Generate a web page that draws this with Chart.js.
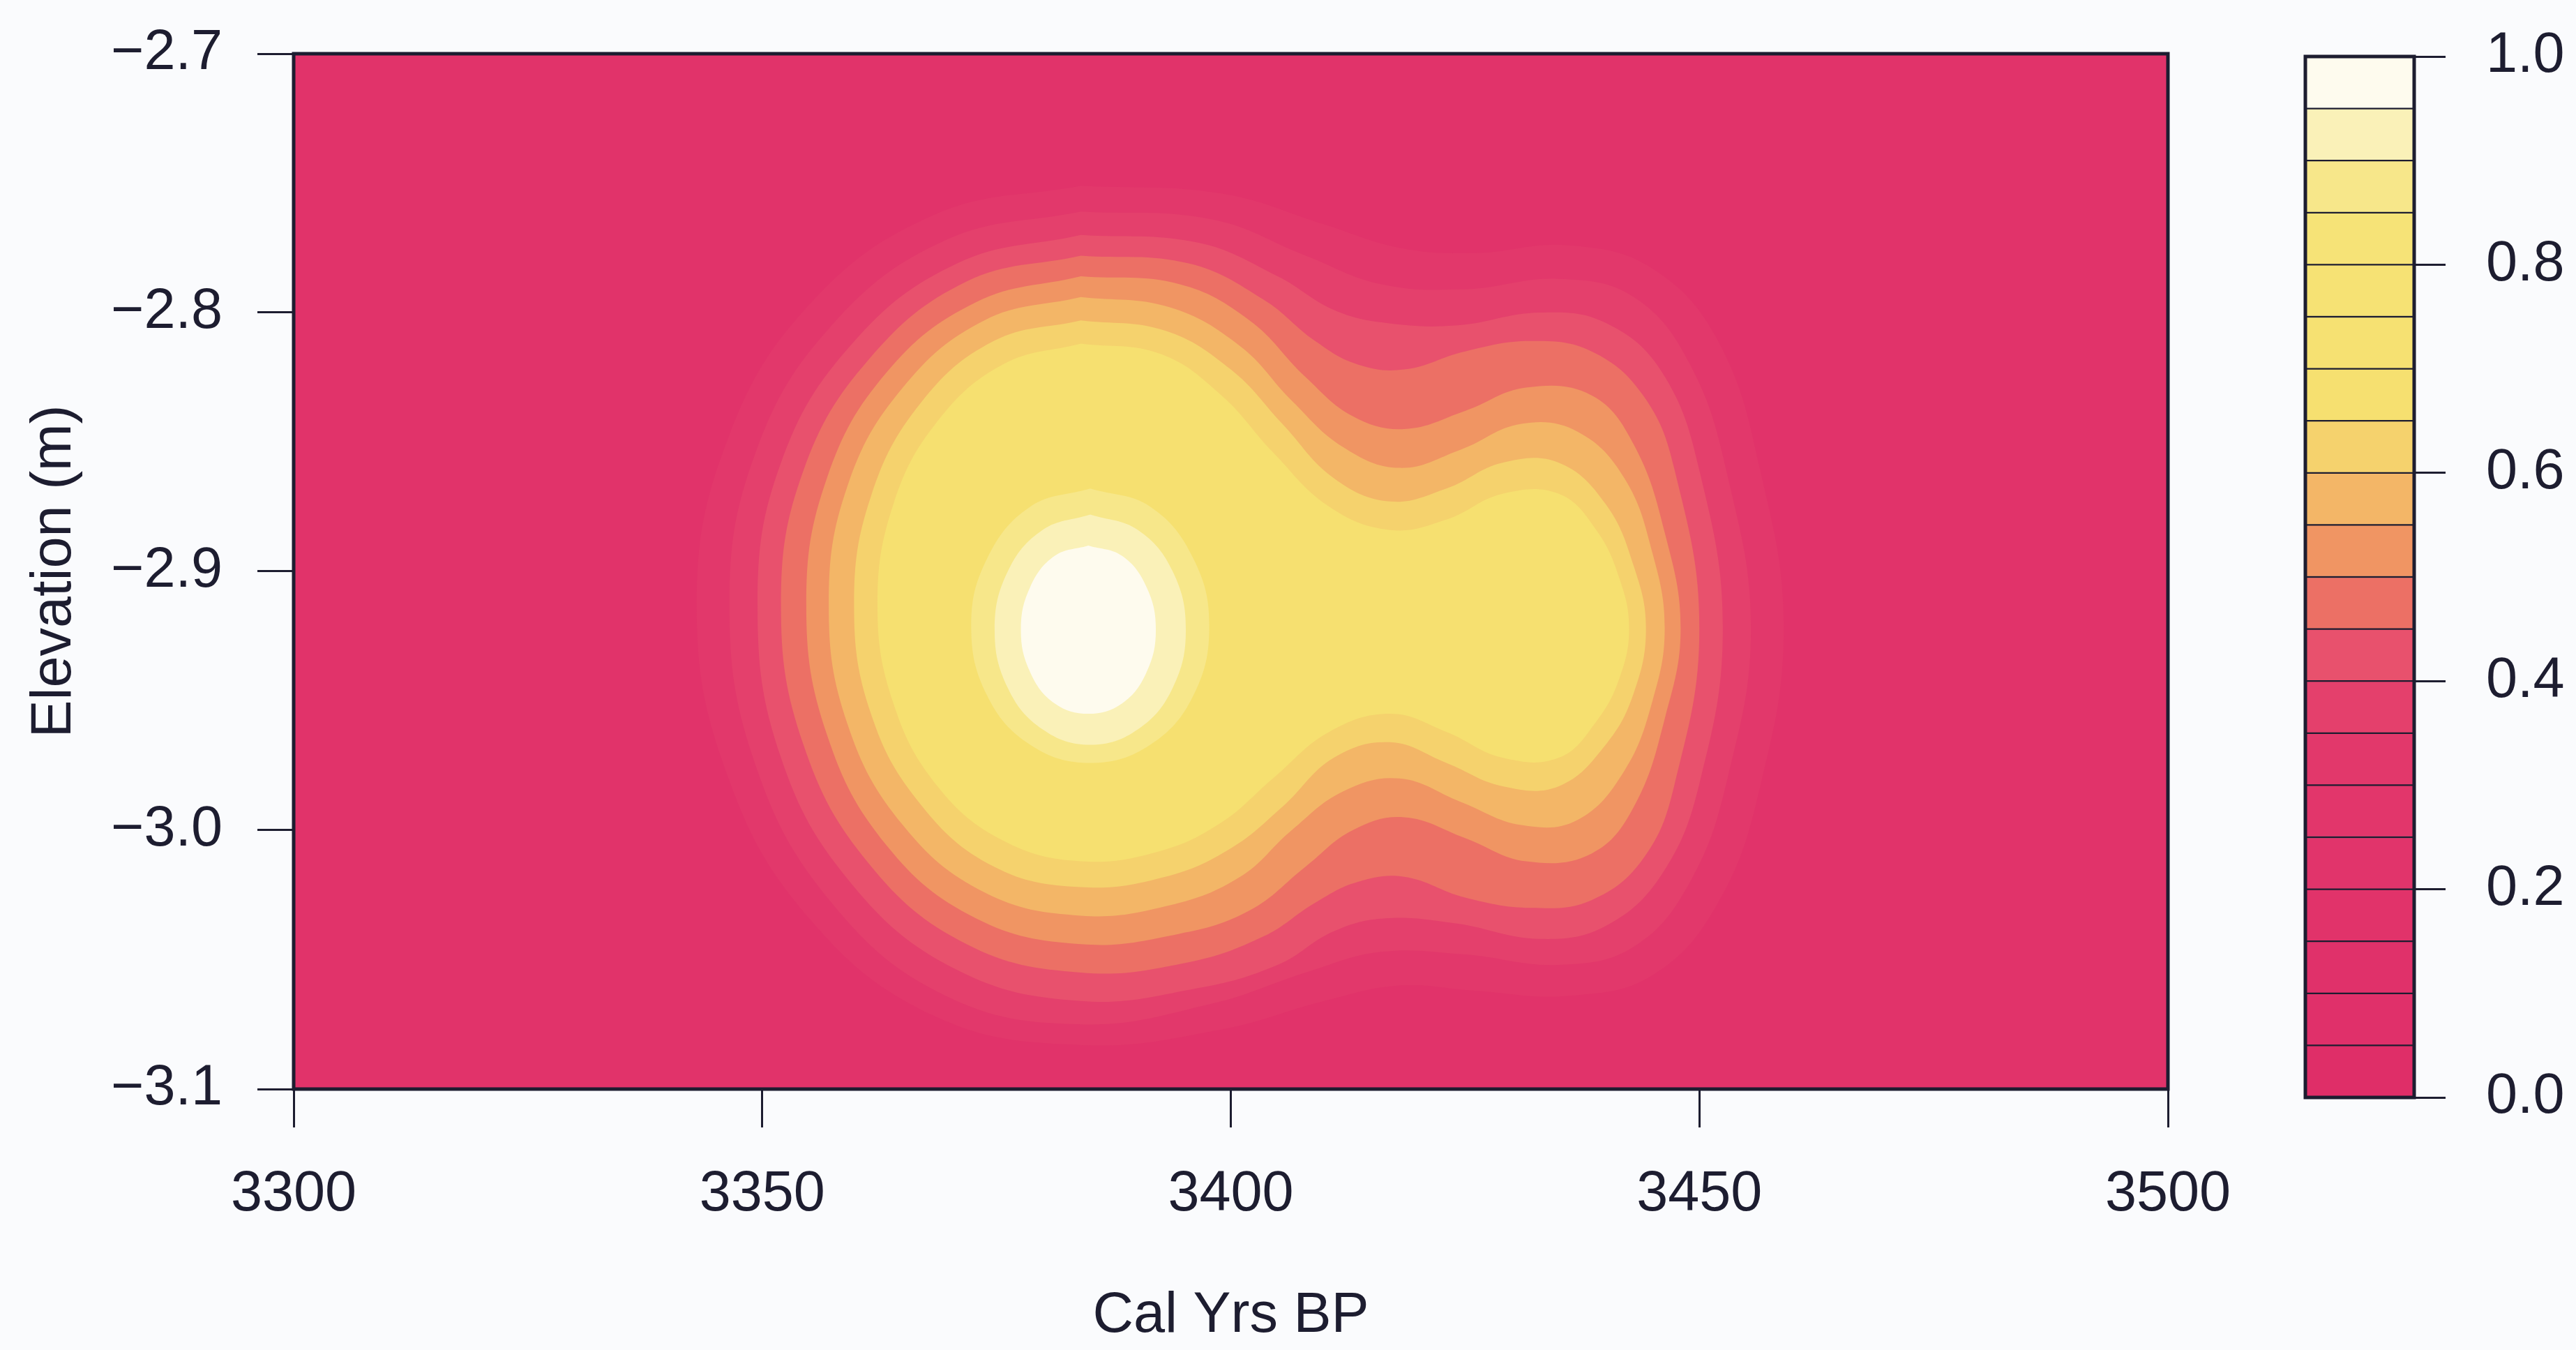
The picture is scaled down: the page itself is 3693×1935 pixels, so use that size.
<!DOCTYPE html>
<html>
<head>
<meta charset="utf-8">
<title>Cal Yrs BP / Elevation</title>
<script src="https://cdn.jsdelivr.net/npm/chart.js@4.4.3/dist/chart.umd.min.js"></script>
<style>
  html, body { margin: 0; padding: 0; background: #fafbfd; }
  body { width: 3693px; height: 1935px; position: relative; overflow: hidden; }
  #plotWrap { position: absolute; left: 0; top: 0; width: 3290px; height: 1935px; }
  #keyWrap  { position: absolute; left: 3250px; top: 0; width: 443px; height: 1935px; }
</style>
</head>
<body>
<div id="plotWrap"><canvas id="plot" width="3290" height="1935"></canvas></div>
<div id="keyWrap"><canvas id="key" width="443" height="1935"></canvas></div>
<script>
/* Probability surface: filled contours over age / elevation, with a banded key */

const xTicks = [3300, 3350, 3400, 3450, 3500];
const yTicks = [-3.1, -3.0, -2.9, -2.8, -2.7];
const keyTicks = [0.0, 0.2, 0.4, 0.6, 0.8, 1.0];
const keyBreaks = [0.00, 0.05, 0.10, 0.15, 0.20, 0.25, 0.30, 0.35, 0.40, 0.45, 0.50,
                   0.55, 0.60, 0.65, 0.70, 0.75, 0.80, 0.85, 0.90, 0.95, 1.00];

// contour levels and their outlines, [cal yrs BP, elevation m]
const levels = [0.30, 0.35, 0.40, 0.45, 0.50, 0.55, 0.60, 0.65, 0.85, 0.90, 0.95];

const c30 = [[3343.0,-2.913],[3346.2,-2.850],[3355.0,-2.797],[3368.5,-2.762],[3384.0,-2.751],[3399.0,-2.754],
  [3410.0,-2.766],[3418.0,-2.775],[3426.0,-2.777],[3436.0,-2.774],[3445.0,-2.783],[3452.0,-2.811],[3456.5,-2.861],
  [3459.0,-2.922],[3456.5,-2.983],[3452.0,-3.028],[3445.0,-3.056],[3436.0,-3.064],[3426.0,-3.062],[3418.0,-3.060],
  [3410.0,-3.066],[3399.0,-3.077],[3384.0,-3.083],[3368.5,-3.072],[3355.0,-3.034],[3346.2,-2.978]];
const c35 = [[3346.5,-2.913],[3349.3,-2.854],[3357.4,-2.805],[3369.6,-2.772],[3384.0,-2.761],[3398.0,-2.764],
  [3408.0,-2.778],[3416.0,-2.789],[3425.0,-2.791],[3435.0,-2.787],[3443.0,-2.794],[3449.0,-2.820],[3453.0,-2.863],
  [3455.5,-2.922],[3453.0,-2.980],[3449.0,-3.020],[3443.0,-3.045],[3435.0,-3.052],[3425.0,-3.048],[3416.0,-3.047],
  [3408.0,-3.055],[3398.0,-3.067],[3384.0,-3.075],[3369.6,-3.064],[3357.4,-3.028],[3349.3,-2.975]];
const c40 = [[3349.5,-2.913],[3352.0,-2.858],[3359.6,-2.812],[3370.8,-2.781],[3384.0,-2.770],[3396.5,-2.773],
  [3405.0,-2.786],[3411.0,-2.799],[3416.5,-2.804],[3424.0,-2.805],[3433.0,-2.800],[3440.0,-2.804],[3446.0,-2.823],
  [3450.0,-2.861],[3452.5,-2.922],[3450.0,-2.982],[3446.0,-3.017],[3440.0,-3.037],[3433.0,-3.042],[3424.0,-3.036],
  [3416.5,-3.034],[3411.0,-3.039],[3405.0,-3.052],[3396.5,-3.061],[3384.0,-3.066],[3370.8,-3.054],[3359.6,-3.021],
  [3352.0,-2.972]];
const c45 = [[3352.0,-2.913],[3354.4,-2.861],[3361.4,-2.818],[3371.8,-2.788],[3384.0,-2.778],[3395.5,-2.781],
  [3403.5,-2.795],[3409.0,-2.811],[3413.5,-2.820],[3418.5,-2.822],[3425.0,-2.815],[3432.0,-2.811],[3438.5,-2.815],
  [3444.0,-2.832],[3447.3,-2.860],[3450.0,-2.922],[3447.3,-2.983],[3444.0,-3.011],[3438.5,-3.027],[3432.0,-3.030],
  [3425.0,-3.026],[3418.5,-3.018],[3413.5,-3.020],[3409.0,-3.028],[3403.5,-3.041],[3395.5,-3.051],[3384.0,-3.055],
  [3371.8,-3.044],[3361.4,-3.013],[3354.4,-2.967]];
const c50 = [[3354.7,-2.913],[3356.9,-2.864],[3363.3,-2.823],[3372.8,-2.796],[3384.0,-2.786],[3394.5,-2.789],
  [3402.0,-2.803],[3408.0,-2.825],[3413.0,-2.840],[3418.5,-2.845],[3425.0,-2.838],[3431.5,-2.829],[3438.5,-2.832],
  [3443.0,-2.851],[3446.3,-2.885],[3448.0,-2.922],[3446.3,-2.957],[3443.0,-2.991],[3438.5,-3.009],[3431.5,-3.012],
  [3425.0,-3.003],[3418.5,-2.995],[3413.0,-3.000],[3408.0,-3.014],[3402.0,-3.031],[3394.5,-3.040],[3384.0,-3.044],
  [3372.8,-3.034],[3363.3,-3.006],[3356.9,-2.963]];
const c55 = [[3357.1,-2.913],[3359.1,-2.867],[3365.0,-2.829],[3373.7,-2.803],[3384.0,-2.794],[3393.5,-2.798],
  [3401.0,-2.813],[3406.5,-2.834],[3412.0,-2.852],[3418.0,-2.860],[3424.5,-2.853],[3431.0,-2.843],[3437.0,-2.846],
  [3442.0,-2.864],[3445.0,-2.893],[3446.3,-2.922],[3445.0,-2.950],[3442.0,-2.977],[3437.0,-2.996],[3431.0,-2.998],
  [3424.5,-2.989],[3418.0,-2.980],[3412.0,-2.985],[3406.5,-3.000],[3401.0,-3.018],[3393.5,-3.029],[3384.0,-3.033],
  [3373.7,-3.024],[3365.0,-2.998],[3359.1,-2.959]];
const c60 = [[3359.8,-2.913],[3361.6,-2.871],[3366.9,-2.835],[3374.7,-2.811],[3384.0,-2.803],[3393.0,-2.807],
  [3400.0,-2.822],[3405.5,-2.843],[3411.0,-2.864],[3417.0,-2.873],[3423.0,-2.868],[3429.0,-2.858],[3435.0,-2.858],
  [3440.0,-2.874],[3443.0,-2.898],[3444.3,-2.922],[3443.0,-2.947],[3440.0,-2.967],[3435.0,-2.983],[3429.0,-2.983],
  [3423.0,-2.974],[3417.0,-2.966],[3411.0,-2.972],[3405.5,-2.991],[3400.0,-3.007],[3393.0,-3.018],[3384.0,-3.022],
  [3374.7,-3.014],[3366.9,-2.990],[3361.6,-2.955]];
const c65 = [[3362.3,-2.913],[3364.0,-2.874],[3368.7,-2.842],[3375.7,-2.820],[3384.0,-2.812],[3392.5,-2.816],
  [3399.0,-2.832],[3404.5,-2.854],[3410.5,-2.875],[3417.0,-2.884],[3423.0,-2.880],[3429.0,-2.870],[3435.0,-2.870],
  [3439.0,-2.884],[3441.5,-2.903],[3442.5,-2.922],[3441.5,-2.941],[3439.0,-2.958],[3435.0,-2.972],[3429.0,-2.972],
  [3423.0,-2.962],[3417.0,-2.955],[3410.5,-2.962],[3404.5,-2.980],[3399.0,-2.997],[3392.5,-3.008],[3384.0,-3.012],
  [3375.7,-3.004],[3368.7,-2.983],[3364.0,-2.951]];
const c85 = [[3397.7,-2.921],[3396.0,-2.895],[3391.4,-2.875],[3385.0,-2.868],[3378.6,-2.875],[3374.0,-2.895],
  [3372.3,-2.921],[3374.0,-2.948],[3378.6,-2.967],[3385.0,-2.974],[3391.4,-2.967],[3396.0,-2.948]];
const c90 = [[3395.2,-2.9225],[3393.8,-2.900],[3390.1,-2.884],[3385.0,-2.878],[3379.9,-2.884],[3376.2,-2.900],
  [3374.8,-2.9225],[3376.2,-2.945],[3379.9,-2.961],[3385.0,-2.967],[3390.1,-2.961],[3393.8,-2.945]];
const c95 = [[3392.0,-2.9225],[3391.0,-2.906],[3388.4,-2.894],[3384.8,-2.890],[3381.2,-2.894],[3378.6,-2.906],
  [3377.6,-2.9225],[3378.6,-2.939],[3381.2,-2.951],[3384.8,-2.955],[3388.4,-2.951],[3391.0,-2.939]];
const outlines = [c30, c35, c40, c45, c50, c55, c60, c65, c85, c90, c95];

// one colour per 0.05 band, low to high
const bandColors = ['#df2e68','#e0306a','#e0316a','#e1336a','#e1346b','#e2366b','#e2386b','#e4406c',
  '#e8516d','#ec7065','#f09563','#f3b667','#f5d26d','#f6e070','#f6e172','#f6e274','#f6e377','#f7e78a',
  '#faf1b8','#fefbee'];

const INK = '#1d1d30';
const FONT = "'Liberation Sans', Arial, Helvetica, sans-serif";
const FS = 81;
Chart.defaults.font.family = FONT;
Chart.defaults.color = INK;

const bandOf = v => bandColors[Math.min(bandColors.length - 1, Math.round(v / 0.05))];
const fmt1 = v => (v < 0 ? '\u2212' : '') + Math.abs(v).toFixed(1);

// close the outline at its highest point, where the curve runs flat and the seam is hidden
const closeAtTop = pts => {
  const k = pts.reduce((best, p, i) => (p[1] > pts[best][1] ? i : best), 0);
  return pts.slice(k).concat(pts.slice(0, k + 1));
};

// fills the plot area before the contours and strokes the box afterwards
const frame = {
  id: 'frame',
  beforeDatasetsDraw(chart, args, opts) {
    if (!opts.fill) return;
    const {ctx, chartArea: a} = chart;
    ctx.save();
    ctx.fillStyle = opts.fill;
    ctx.fillRect(a.left, a.top, a.width, a.height);
    ctx.restore();
  },
  afterDatasetsDraw(chart, args, opts) {
    const {ctx, chartArea: a} = chart;
    ctx.save();
    ctx.strokeStyle = INK;
    ctx.lineWidth = opts.width;
    ctx.strokeRect(a.left, a.top, a.width, a.height);
    ctx.restore();
  }
};

// vertical axes: fixed width, and no extra room reserved for the end labels
const fixWidth = w => s => { s.width = w; s.paddingTop = 0; s.paddingBottom = 0; };

const contourSets = levels.map((lv, i) => ({
  label: lv.toFixed(2),
  data: closeAtTop(outlines[i]).map(([x, y]) => ({x, y})),
  showLine: true,
  fill: 'shape',
  tension: 0.4,
  backgroundColor: bandOf(lv),
  borderWidth: 0,
  pointRadius: 0,
  order: levels.length - i
}));

new Chart(document.getElementById('plot'), {
  type: 'scatter',
  data: { datasets: contourSets },
  plugins: [frame],
  options: {
    responsive: false,
    animation: false,
    events: [],
    layout: { padding: { top: 77, right: 182, bottom: 0, left: 0 } },
    plugins: {
      legend: { display: false },
      tooltip: { enabled: false },
      frame: { fill: bandColors[3], width: 5 }
    },
    scales: {
      x: {
        type: 'linear', min: 3300, max: 3500,
        afterBuildTicks: s => { s.ticks = xTicks.map(v => ({ value: v })); },
        afterFit: s => { s.height = 374; },
        grid: { drawOnChartArea: false, tickLength: 55, tickWidth: 3, tickColor: INK },
        border: { display: false },
        ticks: { font: { size: FS }, color: INK, padding: 48, maxRotation: 0, autoSkip: false,
                 callback: v => String(v) },
        title: { display: true, text: 'Cal Yrs BP', font: { size: FS }, color: INK, padding: { top: 0, bottom: 0 } }
      },
      y: {
        type: 'linear', min: -3.1, max: -2.7,
        afterBuildTicks: s => { s.ticks = yTicks.map(v => ({ value: v })); },
        afterFit: fixWidth(421),
        grid: { drawOnChartArea: false, tickLength: 52, tickWidth: 3, tickColor: INK },
        border: { display: false },
        ticks: { font: { size: FS }, color: INK, padding: 50, callback: v => fmt1(v) },
        title: { display: true, text: 'Elevation (m)', font: { size: FS }, color: INK, padding: { top: 30, bottom: 0 } }
      }
    }
  }
});

// colour key: one stacked segment per band
const keySets = bandColors.map((c, i) => ({
  data: [keyBreaks[i + 1] - keyBreaks[i]],
  backgroundColor: c,
  borderColor: INK,
  borderWidth: 1.5,
  borderSkipped: false,
  barPercentage: 1,
  categoryPercentage: 1
}));

new Chart(document.getElementById('key'), {
  type: 'bar',
  data: { labels: [''], datasets: keySets },
  plugins: [frame],
  options: {
    responsive: false,
    animation: false,
    events: [],
    layout: { padding: { top: 81, right: 0, bottom: 362, left: 55 } },
    plugins: {
      legend: { display: false },
      tooltip: { enabled: false },
      frame: { fill: null, width: 5 }
    },
    scales: {
      x: { stacked: true, display: false },
      y: {
        stacked: true, position: 'right', min: 0, max: 1,
        afterBuildTicks: s => { s.ticks = keyTicks.map(v => ({ value: v })); },
        afterFit: fixWidth(232),
        grid: { drawOnChartArea: false, tickLength: 45, tickWidth: 3, tickColor: INK },
        border: { display: false },
        ticks: { font: { size: FS }, color: INK, padding: 58, callback: v => fmt1(v) }
      }
    }
  }
});
</script>
</body>
</html>
